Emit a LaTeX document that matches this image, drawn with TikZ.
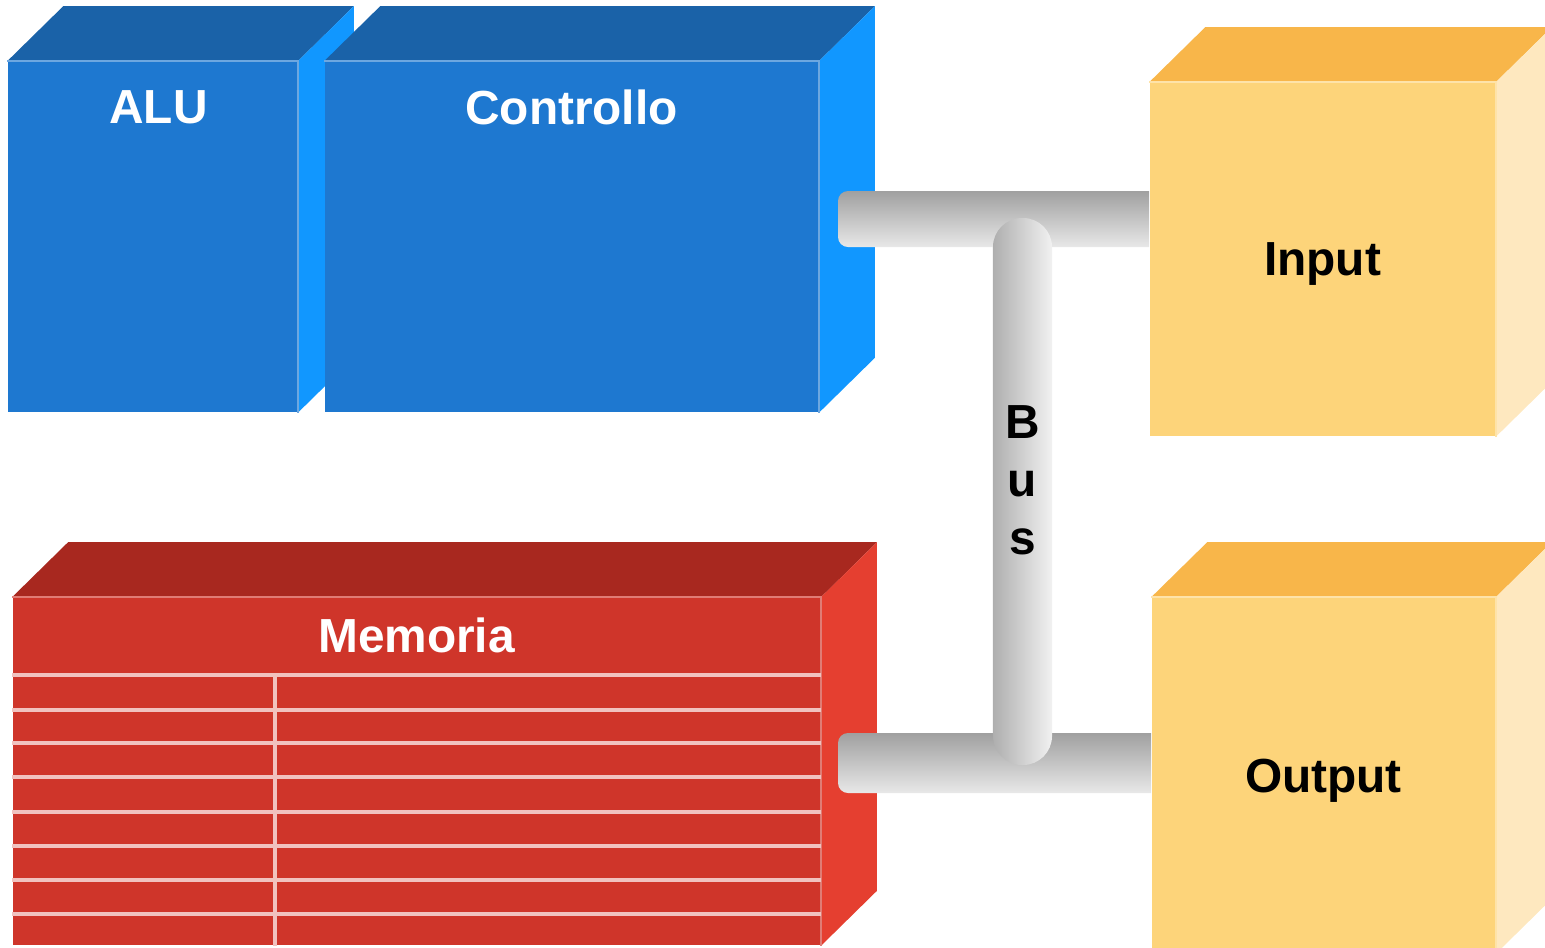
\documentclass[tikz,border=0pt]{standalone}
\usepackage{fontspec}
\setmainfont{Liberation Sans}
\usetikzlibrary{positioning,calc}
\definecolor{cpufront}{HTML}{1E78D0}
\definecolor{cputop}{HTML}{1A62A8}
\definecolor{cpuside}{HTML}{1197FF}
\definecolor{memfront}{HTML}{CF352A}
\definecolor{memtop}{HTML}{A8281F}
\definecolor{memside}{HTML}{E53F30}
\definecolor{iofront}{HTML}{FDD47A}
\definecolor{iotop}{HTML}{F8B64A}
\definecolor{ioside}{HTML}{FEE8BF}
\definecolor{busdark}{HTML}{A0A0A0}
\definecolor{buslight}{HTML}{E8E8E8}

% top and side faces of a box whose front face is node #1
\newcommand{\cubefaces}[4]{%
  \fill[#2] (#1.north west) -- ++(0.56cm,0.55cm) -- ([shift={(0.56cm,0.55cm)}]#1.north east) -- (#1.north east) -- cycle;
  \fill[#3] (#1.north east) -- ++(0.56cm,0.55cm) -- ([shift={(0.56cm,0.55cm)}]#1.south east) -- (#1.south east) -- cycle;
  \draw[#4!65!white, line width=0.6pt] (#1.north west) -- (#1.north east) -- (#1.south east);
}

\begin{document}
\begin{tikzpicture}[x=0.01cm, y=-0.01cm,
  front/.style   ={rectangle, inner sep=0pt, draw=none},
  boxtitle/.style={font=\bfseries\fontsize{13.6}{16.5}\selectfont, text=white, inner sep=0pt},
  iotitle/.style ={font=\bfseries\fontsize{13.6}{16.5}\selectfont, text=black, inner sep=0pt, text depth=0pt},
  memline/.style ={draw=memfront!30!white, line width=1pt},
  hbar/.style    ={top color=busdark, bottom color=buslight},
  vbar/.style    ={left color=busdark!80!buslight, right color=buslight!60!white, rounded corners=0.29cm},
]
\useasboundingbox (0,0) rectangle (1545,947);
\clip (0,0) rectangle (1545,947);

% CPU: ALU and control unit
\node[front, fill=cpufront, minimum width=2.89cm, minimum height=3.5cm] (alu) at (152.5,237) {};
\cubefaces{alu}{cputop}{cpuside}{cpufront}
\node[front, fill=cpufront, minimum width=4.93cm, minimum height=3.5cm] (ctrl) at (571.5,237) {};
\cubefaces{ctrl}{cputop}{cpuside}{cpufront}
\node[boxtitle] (alutitle) at ([xshift=0.06cm, yshift=-0.46cm]alu.north) {ALU};
\node[boxtitle] (ctrltitle) at ([yshift=-0.46cm]ctrl.north) {Controllo};

% memory with its cells
\node[front, fill=memfront, minimum width=8.07cm, minimum height=3.47cm] (mem) at (416.5,771.5) {};
\cubefaces{mem}{memtop}{memside}{memfront}
\foreach \y in {675,710,743,777,812,846,880,914}
  \draw[memline] (mem.west |- 0,\y) -- (mem.east |- 0,\y);
\draw[memline] (275,675) -- (275,0 |- mem.south);
\node[boxtitle] (memtitle) at ([yshift=-0.38cm]mem.north) {Memoria};

% input / output units
\node[front, fill=iofront, minimum width=3.45cm, minimum height=3.53cm, iotitle] (inp) at (1322.5,259.5) {Input};
\cubefaces{inp}{iotop}{ioside}{iofront}
\node[front, fill=iofront, minimum width=3.43cm, minimum height=3.55cm, iotitle] (out) at (1323.5,775.5) {Output};
\cubefaces{out}{iotop}{ioside}{iofront}

% bus
\coordinate (busInL) at (838,191);
\coordinate (busOutL) at (838,733);
\coordinate (busN) at (1022.5,218);
\coordinate (busS) at (1022.5,765);
\shade[hbar] (inp.west |- 0,191) -- (inp.west |- 0,247) [rounded corners=0.1cm] -- (busInL |- 0,247) -- (busInL) [sharp corners] -- cycle;
\shade[hbar] (out.west |- 0,733) -- (out.west |- 0,793) [rounded corners=0.1cm] -- (busOutL |- 0,793) -- (busOutL) [sharp corners] -- cycle;
\shade[vbar] ([xshift=-0.295cm]busN) rectangle ([xshift=0.295cm]busS);
\node[iotitle, align=center] (buslabel) at (1022.5,480) {B\\u\\s};
\end{tikzpicture}
\end{document}
